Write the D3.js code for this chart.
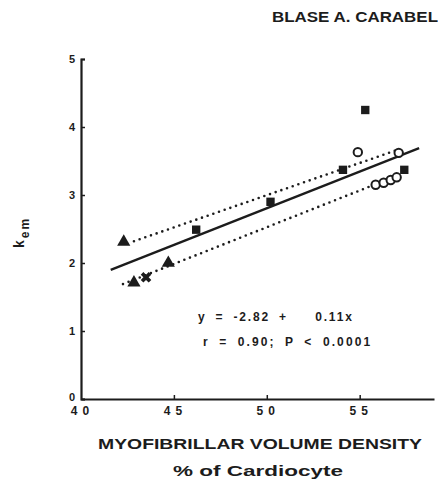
<!doctype html>
<html lang="en">
<head>
<meta charset="UTF-8" />
<title>k_em vs myofibrillar volume density</title>
<script src="https://cdn.jsdelivr.net/npm/d3@7"></script>
<style>
  body { margin: 0; background: #fff; }
  text { font-family: "Liberation Sans", Arial, sans-serif; fill: #1c1c1c; }
</style>
</head>
<body>
<svg id="chart" width="438" height="481"></svg>
<script>
// values
var xTicks = [40, 45, 50, 55];
var yTicks = [0, 1, 2, 3, 4, 5];
var triangles = [[42.3, 2.31], [44.7, 2.0], [42.85, 1.71]];
var crosses = [[43.5, 1.79]];
var squares = [[46.2, 2.49], [50.2, 2.9], [54.1, 3.37], [55.3, 4.25], [57.4, 3.37]];
var circles = [[54.9, 3.63], [57.1, 3.62], [55.86, 3.15], [56.29, 3.18], [56.67, 3.22], [56.99, 3.26]];
var fitLine = [[41.6, 1.9], [58.2, 3.69]];
var upperBand = [[42.85, 2.32], [57.0, 3.66]];
var lowerBand = [[42.26, 1.69], [55.5, 3.12]];
var equation = ["y = -2.82 +   0.11x", "r = 0.90; P < 0.0001"];

var svg = d3.select("#chart");
var ink = "#1c1c1c";

var x = d3.scaleLinear().domain([40, 59]).range([81, 434]);
var y = d3.scaleLinear().domain([0, 5]).range([399, 59]);

// header
svg.append("text")
  .attr("x", 272).attr("y", 22)
  .attr("font-size", 14).attr("font-weight", 600)
  .attr("textLength", 166).attr("lengthAdjust", "spacingAndGlyphs")
  .text("BLASE A. CARABEL");

// axes
var yAxis = svg.append("g")
  .attr("transform", "translate(" + x(40) + ",0)")
  .call(d3.axisLeft(y).tickValues(yTicks).tickSizeInner(-4).tickSizeOuter(-4).tickPadding(6).tickFormat(d3.format("d")));

var xAxis = svg.append("g")
  .attr("transform", "translate(0," + y(0) + ")")
  .call(d3.axisBottom(x).tickValues(xTicks).tickSizeInner(-4).tickSizeOuter(0).tickPadding(6).tickFormat(d3.format("d")));

[yAxis, xAxis].forEach(function (g) {
  g.select(".domain").attr("stroke", ink).attr("stroke-width", 2.2);
  g.selectAll(".tick line").attr("stroke", ink).attr("stroke-width", 1.5);
  g.selectAll(".tick text")
    .attr("font-size", 11).attr("font-weight", 900).attr("fill", ink);
});
yAxis.selectAll(".tick text").filter(function (d) { return d === 0; }).attr("dy", "0.1em");
xAxis.selectAll(".tick text").attr("letter-spacing", 5).attr("dx", 1).attr("font-size", 12).attr("dy", "0.85em");
xAxis.select(".tick line").remove(); // no mark at the origin

// lines
var line = d3.line().x(function (d) { return x(d[0]); }).y(function (d) { return y(d[1]); });

svg.append("path").attr("d", line(fitLine))
  .attr("fill", "none").attr("stroke", ink).attr("stroke-width", 2.4);

[upperBand, lowerBand].forEach(function (band) {
  svg.append("path").attr("d", line(band))
    .attr("fill", "none").attr("stroke", ink).attr("stroke-width", 2.6)
    .attr("stroke-linecap", "round").attr("stroke-dasharray", "0 6");
});

// points
function pt(d) { return "translate(" + x(d[0]) + "," + y(d[1]) + ")"; }

svg.selectAll(".tri").data(triangles).enter().append("path")
  .attr("transform", pt)
  .attr("d", d3.symbol(d3.symbolTriangle, 75))
  .attr("fill", ink);

svg.selectAll(".cross").data(crosses).enter().append("path")
  .attr("transform", function (d) { return pt(d) + " rotate(45)"; })
  .attr("d", d3.symbol(d3.symbolCross, 70))
  .attr("fill", ink);

svg.selectAll(".sq").data(squares).enter().append("path")
  .attr("transform", pt)
  .attr("d", d3.symbol(d3.symbolSquare, 70))
  .attr("fill", ink);

svg.selectAll(".circ").data(circles).enter().append("circle")
  .attr("transform", pt)
  .attr("r", 4.2)
  .attr("fill", "#fff").attr("stroke", ink).attr("stroke-width", 2);

// regression text
svg.append("text").attr("x", 198).attr("y", 321)
  .attr("font-size", 12).attr("font-weight", 900)
  .attr("letter-spacing", 1.8).attr("word-spacing", 4)
  .style("white-space", "pre")
  .text(equation[0]);
svg.append("text").attr("x", 203).attr("y", 346)
  .attr("font-size", 12).attr("font-weight", 900)
  .attr("letter-spacing", 2.1).attr("word-spacing", 4)
  .text(equation[1]);

// axis titles
svg.append("text").attr("x", 98).attr("y", 449)
  .attr("font-size", 15).attr("font-weight", 900)
  .attr("textLength", 324).attr("lengthAdjust", "spacingAndGlyphs")
  .text("MYOFIBRILLAR VOLUME DENSITY");
svg.append("text").attr("x", 173).attr("y", 476)
  .attr("font-size", 15).attr("font-weight", 900)
  .attr("textLength", 170).attr("lengthAdjust", "spacingAndGlyphs")
  .text("% of Cardiocyte");

var yLabel = svg.append("text")
  .attr("transform", "translate(24,248) rotate(-90)")
  .attr("font-size", 14).attr("font-weight", 900);
yLabel.append("tspan").attr("letter-spacing", 1).text("k");
yLabel.append("tspan").attr("dy", 5).attr("dx", 1).attr("letter-spacing", 2).attr("font-size", 12).text("em");
</script>
</body>
</html>
